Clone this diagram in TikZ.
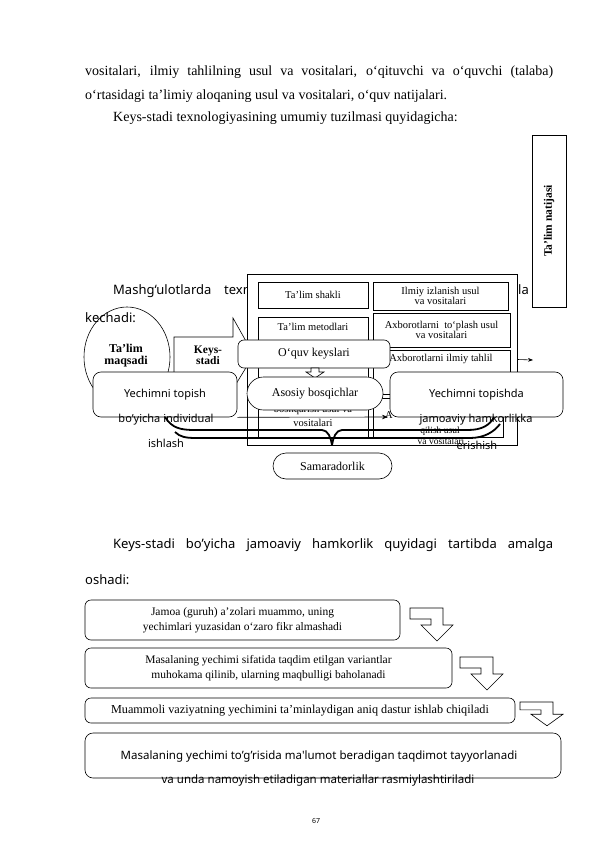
\documentclass[tikz,border=0pt]{standalone}
\usepackage{fontspec}
\setmainfont{Liberation Serif}
\newfontfamily\sansf{Noto Sans}
\usetikzlibrary{shapes.geometric,shapes.misc,arrows.meta}
\tikzset{
  ln/.style={line width=0.6pt},
  box/.style={draw, ln, fill=white, inner sep=0pt, align=center},
  rbox/.style={box, rounded corners=6pt},
  pill/.style={box, rounded rectangle},
  bodyline/.style={inner sep=0pt, anchor=base west, font=\fontsize{14}{16}\selectfont},
  bigsans/.style={inner sep=0pt, anchor=base west, font=\sansf\fontsize{13}{15}\selectfont},
  smallsans/.style={inner sep=0pt, align=center, font=\sansf\fontsize{11}{13}\selectfont},
  flowsans/.style={inner sep=0pt, align=center, font=\sansf\fontsize{11.5}{13}\selectfont},
  boxtext/.style={inner sep=0pt, align=center, font=\fontsize{10.5}{10.5}\selectfont},
  fragtext/.style={inner sep=0pt, align=center, font=\fontsize{9.5}{9.5}\selectfont},
  midtext/.style={inner sep=0pt, align=center, font=\fontsize{12}{14}\selectfont},
  flowtext/.style={inner sep=0pt, align=center, font=\fontsize{11.5}{14.5}\selectfont},
  boldtext/.style={inner sep=0pt, align=center, font=\bfseries\fontsize{12}{12}\selectfont},
  brace/.style={line width=1.8pt},
  bentarrow/.pic={\draw[ln, fill=white] (0,0) -- (33,0) -- (33,17) -- (43,17) -- (27,33) -- (11,17) -- (21,17) -- (21,11) -- (0,11) -- cycle;}
}
\begin{document}
\begin{tikzpicture}[x=1pt,y=-1pt]
\useasboundingbox[fill=white] (0,0) rectangle (595,842);

% body text
\node[bodyline] (t1) at (85,76) {\makebox[468pt][s]{vositalari, ilmiy tahlilning usul va vositalari, o‘qituvchi va o‘quvchi (talaba)}};
\node[bodyline] (t2) at (85,100) {o‘rtasidagi ta’limiy aloqaning usul va vositalari, o‘quv natijalari.};
\node[bodyline] (t3) at (113,122) {Keys-stadi texnologiyasining umumiy tuzilmasi quyidagicha:};

\node[bigsans] (m1) at (113,294) {Mashg‘ulotlarda};
\node[bigsans] (m2) at (224,294) {texn};
\node[bigsans] (m3) at (367,294) {s};
\node[bigsans] (m4) at (510,294) {hla};

% result box
\node[box, rotate=90, minimum width=172, minimum height=34, font=\bfseries\fontsize{11.5}{12}\selectfont] (natija) at (549,221) {Ta'lim natijasi};

% frame and columns
\node[box, minimum width=270, minimum height=171] (frame) at (382,359.5) {};
\node[box, boxtext, minimum width=110, minimum height=26] (L1) at (313,295) {Ta'lim shakli};
\node[box, minimum width=110, minimum height=48] (L2) at (313,341) {};
\node[boxtext] (L2t) at (313,327) {Ta'lim metodlari};
\node[box, minimum width=110, minimum height=33] (L3) at (313,383.5) {};
\node[box, minimum width=110, minimum height=35] (L4) at (313,419.5) {};
\node[boxtext] (L4a) at (313,410) {boshqarish usul va};
\node[boxtext] (L4b) at (313,423) {vositalari};

\node[box, boxtext, minimum width=135, minimum height=28] (R1) at (440.5,296) {Ilmiy izlanish usul\\va vositalari};
\node[box, boxtext, minimum width=137, minimum height=34] (R2) at (441.5,330) {Axborotlarni\ \ to‘plash usul\\va vositalari};
\node[box, minimum width=137, minimum height=44] (R3) at (441.5,372) {};
\node[boxtext] (R3t) at (441,359) {Axborotlarni ilmiy tahlil};
\node[box, minimum width=130, minimum height=39] (R4) at (438,417.5) {};
\node[boxtext] (R4t) at (389,415) {A};

% callout and ellipse
\draw[ln, fill=white] (174,337) -- (233,337) -- (233,318) -- (247,343) -- (247,366) -- (236,384) -- (174,384) -- cycle;
\node[boldtext, font=\bfseries\fontsize{11.5}{11}\selectfont] (keys) at (208,355) {Keys-\\stadi};
\node[box, ellipse, minimum width=86, minimum height=100] (maqsad) at (127,357) {};
\node[boldtext] (maqsadt) at (126,356) {Ta'lim\\maqsadi};
\node[bigsans] (m5) at (85,322) {kechadi:};

% centre nodes
\node[rbox, midtext, minimum width=152, minimum height=28] (oquv) at (314,354) {O‘quv keyslari};
\draw[ln, fill=white] (311,368) -- (319,368) -- (319,372) -- (324,372) -- (315,378) -- (306,372) -- (311,372) -- cycle;
\node[pill, midtext, minimum width=136, minimum height=33] (asosiy) at (315,393.5) {Asosiy bosqichlar};

\node[rbox, smallsans, rounded corners=8pt, minimum width=144, minimum height=45] (ytop) at (165,394.5) {Yechimni topish};
\node[smallsans] (ytop2) at (166,420) {bo’yicha individual};
\node[smallsans] (ytop3) at (166,443) {ishlash};

\node[rbox, smallsans, rounded corners=8pt, minimum width=173, minimum height=45] (ybot) at (476.5,394.5) {Yechimni topishda};
\node[smallsans] (ybot2) at (476,419.5) {jamoaviy hamkorlikka};
\node[smallsans] (ybot3) at (477,445) {erishish};

% connectors
\coordinate (aend) at (388,417);
\draw[ln, -{Stealth[length=6pt]}] (ytop.south east) -- (aend);
\coordinate (rend) at (533,360);
\draw[ln, -{Stealth[length=5pt]}] (frame.east) -- (rend);

% brace
\draw[brace] (165,417) .. controls (172,428) and (180,430) .. (195,430) -- (322,430) .. controls (328,430) and (331,438) .. (332,445);
\draw[brace] (332,445) .. controls (333,438) and (336,430) .. (342,430) -- (468,430) .. controls (482,430) and (490,425) .. (494,417);
\draw[brace] (175,432) .. controls (180,437) and (186,438) .. (196,438) -- (470,438) .. controls (484,438) and (494,432) .. (500,424);

\node[fragtext] (R4b) at (440,431) {qilish usul};
\node[fragtext] (R4c) at (441,441) {va vositalari};

\node[pill, midtext, minimum width=119, minimum height=26] (samara) at (332.5,466) {Samaradorlik};

% second part
\node[bigsans] (k1) at (113,548) {\makebox[440pt][s]{Keys-stadi bo’yicha jamoaviy hamkorlik quyidagi tartibda amalga}};
\node[bigsans] (k2) at (85,584) {oshadi:};

\node[rbox, flowtext, minimum width=315, minimum height=40] (f1) at (242.5,620) {Jamoa (guruh) a'zolari muammo, uning\\yechimlari yuzasidan o‘zaro fikr almashadi};
\node[rbox, flowtext, minimum width=367, minimum height=40] (f2) at (268.5,668) {Masalaning yechimi sifatida taqdim etilgan variantlar\\muhokama qilinib, ularning maqbulligi baholanadi};
\node[rbox, flowtext, font=\fontsize{12.2}{14}\selectfont, minimum width=430, minimum height=25] (f3) at (300,710.5) {Muammoli vaziyatning yechimini ta'minlaydigan aniq dastur ishlab chiqiladi};
\node[rbox, rounded corners=8pt, minimum width=476, minimum height=45] (f4) at (323,755.5) {};
\node[flowsans] (f4a) at (319,757) {Masalaning yechimi to’g’risida ma'lumot beradigan taqdimot tayyorlanadi};
\node[flowsans] (f4b) at (318,780) {va unda namoyish etiladigan materiallar rasmiylashtiriladi};

\pic at (410,608) {bentarrow};
\pic at (460,657) {bentarrow};
\pic[yscale=0.72] at (520,702) {bentarrow};

\node[inner sep=0pt, font=\sansf\fontsize{7}{8}\selectfont] (pg) at (316,821) {67};
\end{tikzpicture}
\end{document}
